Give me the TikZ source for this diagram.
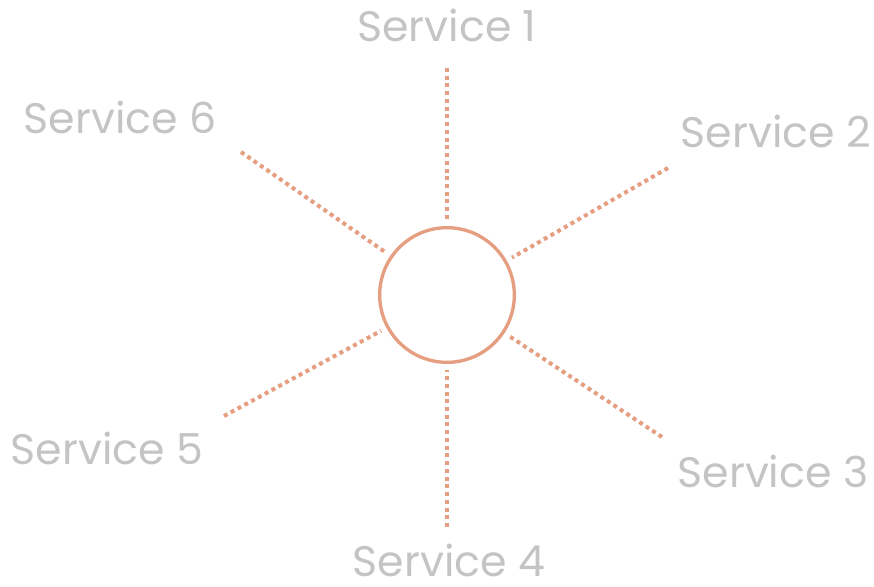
\documentclass[tikz,border=0pt]{standalone}
\usepackage{fontspec}
\setmainfont{Poppins}
\definecolor{linec}{RGB}{229,158,128}
\definecolor{textc}{RGB}{196,196,196}
\begin{document}
\begin{tikzpicture}[x=0.75pt,y=-0.75pt,
  lbl/.style={text=textc,font=\fontsize{32}{36}\selectfont,inner sep=0pt,anchor=center},
  dotline/.style={draw=linec,line width=3pt,dash pattern=on 3pt off 2.8pt,shorten >=4.5pt},
  hub/.style={circle,draw=linec,line width=2.5pt,minimum size=101pt,inner sep=0pt}]
\useasboundingbox (0,0) rectangle (874,586);
\node[hub] (c) at (447,295) {};
\coordinate (e1) at (447,68);
\coordinate (e2) at (668,168);
\coordinate (e3) at (662,437);
\coordinate (e4) at (447,527);
\coordinate (e5) at (224,416);
\coordinate (e6) at (241,152);
\foreach \i in {1,...,6} {\draw[dotline] (e\i) -- (c);}
\node[lbl] (s1) at (447,25) {Service 1};
\node[lbl] (s2) at (776,131) {Service 2};
\node[lbl] (s3) at (773,471) {Service 3};
\node[lbl] (s4) at (449,560) {Service 4};
\node[lbl] (s5) at (107,448) {Service 5};
\node[lbl] (s6) at (120,117) {Service 6};
\end{tikzpicture}
\end{document}
